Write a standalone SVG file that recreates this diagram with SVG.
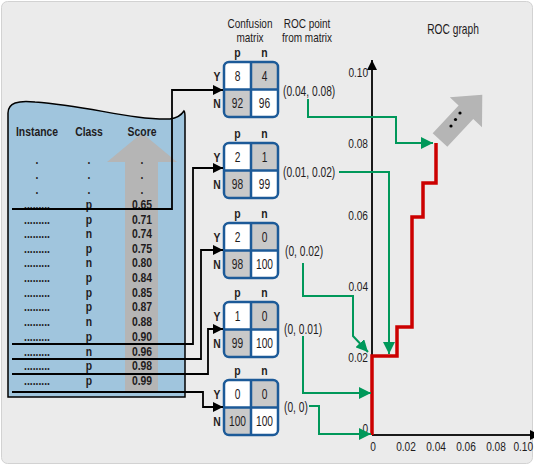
<svg xmlns="http://www.w3.org/2000/svg" width="534" height="465" viewBox="0 0 534 465">
<style>
text{font-family:'Liberation Sans',Arial,sans-serif;font-size:14px;fill:#1f1c1d;text-anchor:middle;transform-box:fill-box;transform-origin:center;transform:scaleX(0.73)}
.b{font-weight:bold;font-size:13px;transform:scaleX(0.8)}
.ax{font-size:13px;transform:scaleX(0.78)}
.hd{font-size:12.5px;transform:scaleX(0.8)}
.r{text-anchor:end;transform-origin:right center}
.l{text-anchor:start;transform-origin:left center}
.blk{fill:none;stroke:#000;stroke-width:1.8}
.grn{fill:none;stroke:#00985a;stroke-width:2}
.cell{fill:#fff}
.gray{fill:#c9c9c9}
.mline{fill:none;stroke:#1c5a98;stroke-width:2.5}
</style>
<defs>
<marker id="ab" markerUnits="userSpaceOnUse" markerWidth="11" markerHeight="10" refX="10" refY="5" orient="auto"><path d="M0,0 L10,5 L0,10 z" fill="#000"/></marker>
<marker id="ag" markerUnits="userSpaceOnUse" markerWidth="13" markerHeight="12" refX="12" refY="6" orient="auto"><path d="M0,0 L12,6 L0,12 z" fill="#00985a"/></marker>
<clipPath id="mc"><rect x="0" y="0" width="54" height="55" rx="5"/></clipPath>
</defs>
<rect x="1.5" y="1.5" width="531" height="462" rx="6" fill="#ebebeb" stroke="#d2d2d2"/>

<g id="table">
<path d="M8,397 V113 C8,103 18,100 35,102 C90,106 130,120 170,119 C178,118 182,114 184,111 C185,112 185,114 185,117 V397 Z" fill="#a0c5dd" stroke="#000" stroke-width="1.5"/>
<polygon points="125,392 125,162 107,162 142,133 177,162 158,162 158,392" fill="#b5b5b5"/>
<text class="b" x="37" y="136">Instance</text>
<text class="b" x="89" y="136">Class</text>
<text class="b" x="142" y="136">Score</text>
<g>
<text class="b" x="37" y="164">.</text><text class="b" x="89" y="164">.</text><text class="b" x="142" y="164">.</text>
<text class="b" x="37" y="179">.</text><text class="b" x="89" y="179">.</text><text class="b" x="142" y="179">.</text>
<text class="b" x="37" y="194">.</text><text class="b" x="89" y="194">.</text><text class="b" x="142" y="194">.</text>
<text class="b" x="37" y="209">.........</text><text class="b" x="89" y="209">p</text><text class="b" x="142" y="209">0.65</text>
<text class="b" x="37" y="224">.........</text><text class="b" x="89" y="224">p</text><text class="b" x="142" y="224">0.71</text>
<text class="b" x="37" y="238">.........</text><text class="b" x="89" y="238">n</text><text class="b" x="142" y="238">0.74</text>
<text class="b" x="37" y="253">.........</text><text class="b" x="89" y="253">p</text><text class="b" x="142" y="253">0.75</text>
<text class="b" x="37" y="267">.........</text><text class="b" x="89" y="267">n</text><text class="b" x="142" y="267">0.80</text>
<text class="b" x="37" y="282">.........</text><text class="b" x="89" y="282">p</text><text class="b" x="142" y="282">0.84</text>
<text class="b" x="37" y="297">.........</text><text class="b" x="89" y="297">p</text><text class="b" x="142" y="297">0.85</text>
<text class="b" x="37" y="311">.........</text><text class="b" x="89" y="311">p</text><text class="b" x="142" y="311">0.87</text>
<text class="b" x="37" y="326">.........</text><text class="b" x="89" y="326">n</text><text class="b" x="142" y="326">0.88</text>
<text class="b" x="37" y="341">.........</text><text class="b" x="89" y="341">p</text><text class="b" x="142" y="341">0.90</text>
<text class="b" x="37" y="356">.........</text><text class="b" x="89" y="356">n</text><text class="b" x="142" y="356">0.96</text>
<text class="b" x="37" y="370">.........</text><text class="b" x="89" y="370">p</text><text class="b" x="142" y="370">0.98</text>
<text class="b" x="37" y="385">.........</text><text class="b" x="89" y="385">p</text><text class="b" x="142" y="385">0.99</text>
</g>
</g>

<g id="headers">
<text class="hd" x="250" y="28">Confusion</text>
<text class="hd" x="250" y="42">matrix</text>
<text class="hd" x="307" y="28">ROC point</text>
<text class="hd" x="307" y="42">from matrix</text>
<text x="453" y="34">ROC graph</text>
</g>

<g id="matrix1" transform="translate(224,62)">
<rect class="cell" width="54" height="55" rx="5"/>
<g clip-path="url(#mc)"><rect class="gray" x="27" y="0" width="27" height="27.5"/><rect class="gray" x="0" y="27.5" width="27" height="27.5"/></g>
<path class="mline" d="M27,0 V55 M0,27.5 H54"/><rect class="mline" width="54" height="55" rx="5"/>
<text x="13.5" y="19">8</text><text x="40.5" y="19">4</text><text x="13.5" y="46.5">92</text><text x="40.5" y="46.5">96</text>
<text class="b" x="13.5" y="-5">p</text><text class="b" x="40.5" y="-5">n</text><text class="b" x="-7" y="19">Y</text><text class="b" x="-7" y="46.5">N</text>
</g>
<g id="matrix2" transform="translate(224,143)">
<rect class="cell" width="54" height="55" rx="5"/>
<g clip-path="url(#mc)"><rect class="gray" x="27" y="0" width="27" height="27.5"/><rect class="gray" x="0" y="27.5" width="27" height="27.5"/></g>
<path class="mline" d="M27,0 V55 M0,27.5 H54"/><rect class="mline" width="54" height="55" rx="5"/>
<text x="13.5" y="19">2</text><text x="40.5" y="19">1</text><text x="13.5" y="46.5">98</text><text x="40.5" y="46.5">99</text>
<text class="b" x="13.5" y="-5">p</text><text class="b" x="40.5" y="-5">n</text><text class="b" x="-7" y="19">Y</text><text class="b" x="-7" y="46.5">N</text>
</g>
<g id="matrix3" transform="translate(224,223)">
<rect class="cell" width="54" height="55" rx="5"/>
<g clip-path="url(#mc)"><rect class="gray" x="27" y="0" width="27" height="27.5"/><rect class="gray" x="0" y="27.5" width="27" height="27.5"/></g>
<path class="mline" d="M27,0 V55 M0,27.5 H54"/><rect class="mline" width="54" height="55" rx="5"/>
<text x="13.5" y="19">2</text><text x="40.5" y="19">0</text><text x="13.5" y="46.5">98</text><text x="40.5" y="46.5">100</text>
<text class="b" x="13.5" y="-5">p</text><text class="b" x="40.5" y="-5">n</text><text class="b" x="-7" y="19">Y</text><text class="b" x="-7" y="46.5">N</text>
</g>
<g id="matrix4" transform="translate(224,302)">
<rect class="cell" width="54" height="55" rx="5"/>
<g clip-path="url(#mc)"><rect class="gray" x="27" y="0" width="27" height="27.5"/><rect class="gray" x="0" y="27.5" width="27" height="27.5"/></g>
<path class="mline" d="M27,0 V55 M0,27.5 H54"/><rect class="mline" width="54" height="55" rx="5"/>
<text x="13.5" y="19">1</text><text x="40.5" y="19">0</text><text x="13.5" y="46.5">99</text><text x="40.5" y="46.5">100</text>
<text class="b" x="13.5" y="-5">p</text><text class="b" x="40.5" y="-5">n</text><text class="b" x="-7" y="19">Y</text><text class="b" x="-7" y="46.5">N</text>
</g>
<g id="matrix5" transform="translate(224,380)">
<rect class="cell" width="54" height="55" rx="5"/>
<g clip-path="url(#mc)"><rect class="gray" x="27" y="0" width="27" height="27.5"/><rect class="gray" x="0" y="27.5" width="27" height="27.5"/></g>
<path class="mline" d="M27,0 V55 M0,27.5 H54"/><rect class="mline" width="54" height="55" rx="5"/>
<text x="13.5" y="19">0</text><text x="40.5" y="19">0</text><text x="13.5" y="46.5">100</text><text x="40.5" y="46.5">100</text>
<text class="b" x="13.5" y="-5">p</text><text class="b" x="40.5" y="-5">n</text><text class="b" x="-7" y="19">Y</text><text class="b" x="-7" y="46.5">N</text>
</g>

<g id="points">
<text class="l" x="283" y="96">(0.04, 0.08)</text>
<text class="l" x="283" y="177">(0.01, 0.02)</text>
<text class="l" x="285" y="256">(0, 0.02)</text>
<text class="l" x="284" y="334">(0, 0.01)</text>
<text class="l" x="284" y="412">(0, 0)</text>
</g>

<g id="roc-graph">
<path d="M372,435 V60" fill="none" stroke="#1a1a1a" stroke-width="2" marker-end="url(#ab)"/>
<path d="M372,435 H540" fill="none" stroke="#1a1a1a" stroke-width="2" marker-end="url(#ab)"/>
<text class="ax r" x="368" y="77">0.10</text>
<text class="ax r" x="368" y="148">0.08</text>
<text class="ax r" x="368" y="220">0.06</text>
<text class="ax r" x="368" y="291">0.04</text>
<text class="ax r" x="368" y="362">0.02</text>
<text class="ax r" x="368" y="433">0</text>
<text class="ax" x="373" y="451">0</text>
<text class="ax" x="406" y="451">0.02</text>
<text class="ax" x="436" y="451">0.04</text>
<text class="ax" x="466" y="451">0.06</text>
<text class="ax" x="496" y="451">0.08</text>
<text class="ax r" x="533" y="451">0.10</text>
<polygon points="0,-10 38,-10 38,-22 62,0 38,22 38,10 0,10" fill="#b5b5b5" transform="translate(440,140) rotate(-47)"/>
<circle cx="451" cy="126" r="1.6" fill="#000"/><circle cx="455.5" cy="119.5" r="1.6" fill="#000"/><circle cx="460" cy="113" r="1.6" fill="#000"/>
<path d="M372,435 V356 H397 V327 H412 V217 H423 V183 H436 V143" fill="none" stroke="#cc0000" stroke-width="3.5"/>
</g>

<g id="connectors">
<path class="blk" d="M12,209 H172 V90 H223" marker-end="url(#ab)"/>
<path class="blk" d="M12,344 H193 V168 H223" marker-end="url(#ab)"/>
<path class="blk" d="M12,359 H201 V250 H223" marker-end="url(#ab)"/>
<path class="blk" d="M12,374 H208 V329 H223" marker-end="url(#ab)"/>
<path class="blk" d="M12,392 H203 V407 H223" marker-end="url(#ab)"/>
<path class="grn" d="M308,99 V117 H396 V143 H433" marker-end="url(#ag)"/>
<path class="grn" d="M339,172 H389 V354" marker-end="url(#ag)"/>
<path class="grn" d="M303,263 V296 H353 V336 L368,352" marker-end="url(#ag)"/>
<path class="grn" d="M303,336 V393 H371" marker-end="url(#ag)"/>
<path class="grn" d="M309,406 H319 V434 H371" marker-end="url(#ag)"/>
</g>
</svg>
